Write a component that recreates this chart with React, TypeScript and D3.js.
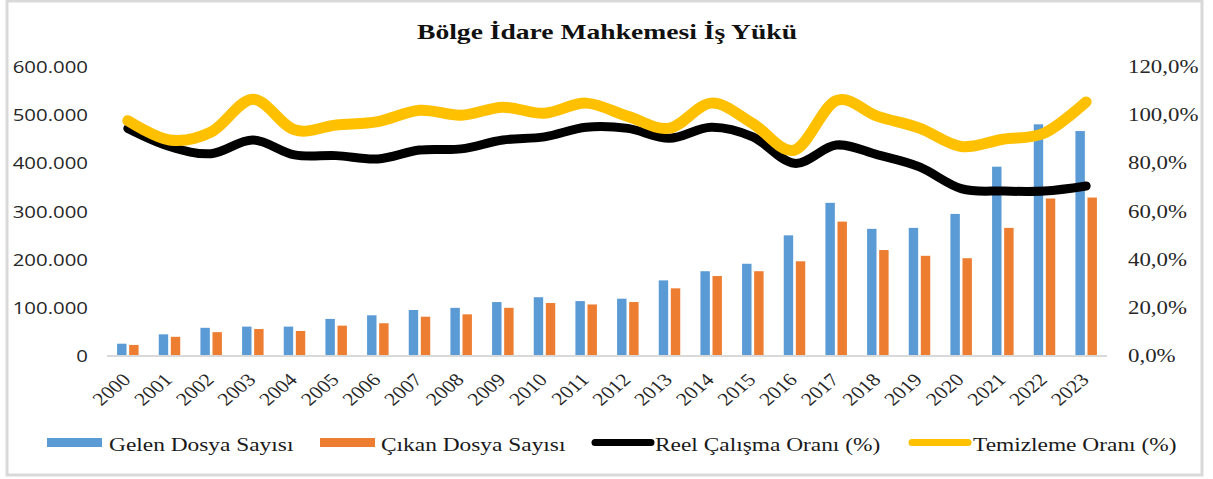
import React from "react";
import * as d3 from "d3";

const years = ["2000","2001","2002","2003","2004","2005","2006","2007","2008","2009","2010","2011","2012","2013","2014","2015","2016","2017","2018","2019","2020","2021","2022","2023"];
const gelen = [25500, 45000, 58500, 61000, 61000, 77000, 84500, 95500, 100000, 112000, 122000, 114000, 119000, 157000, 176000, 191500, 250500, 318000, 264000, 266000, 295000, 393000, 481000, 467000];
const cikan = [23000, 39800, 49500, 56000, 52000, 63000, 68000, 81600, 86500, 100000, 110000, 107000, 112000, 140500, 166000, 176000, 196600, 279000, 220000, 208000, 203000, 266000, 327000, 329000];
const reel = [94.5, 87, 84, 89.7, 83.5, 83.2, 81.8, 85.5, 86, 89.7, 91, 95, 94.5, 90.4, 95, 91, 80, 87.6, 83.5, 78.5, 69.5, 68.5, 68.5, 70.6];
const temizleme = [97.7, 89.7, 93, 106.6, 93.9, 95.9, 97.3, 102, 100, 103.3, 100.8, 105, 99.5, 94.6, 105, 96.5, 85.5, 106, 99.5, 94.6, 87, 90, 92.6, 105.5];
const leftTicks = [0, 100000, 200000, 300000, 400000, 500000, 600000];
const rightTicks = [0, 20, 40, 60, 80, 100, 120];
const seriesNames = ["Gelen Dosya Sayısı", "Çıkan Dosya Sayısı", "Reel Çalışma Oranı (%)", "Temizleme Oranı (%)"];
const title = "Bölge İdare Mahkemesi İş Yükü";

const W = 1213, H = 479;
const SX = 1.2;
const BLUE = "#5B9BD5", ORANGE = "#ED7D31", BLACK = "#000000", YELLOW = "#FFC000";
const SERIF = "'Liberation Serif', 'Times New Roman', serif";
const SANS = "'Open Sans', 'Noto Sans', sans-serif";

export default function App() {
  const x = d3.scaleBand<string>().domain(years).range([107, 1107]).padding(0);
  const bw = x.bandwidth();
  const inner = d3.scaleBand<string>().domain(["g", "c"]).range([bw / 2 - 10.75, bw / 2 + 10.75]).paddingInner(0.22);
  const yL = d3.scaleLinear().domain([0, 600000]).range([356, 67]);
  const yR = d3.scaleLinear().domain([0, 120]).range([356, 67]);
  const line = d3.line<number>().x((_, i) => (x(years[i]) as number) + bw / 2).y((d) => yR(d)).curve(d3.curveCardinal.tension(0));
  const fmtL = (v: number) => (v === 0 ? "0" : d3.format(",")(v).replace(/,/g, "."));
  const fmtR = (v: number) => v.toFixed(1).replace(".", ",") + "%";

  const legendText = (tx: number, label: string) => (
    <text transform={`translate(${tx},451) scale(${SX},1)`} fontFamily={SERIF} fontSize={19.5} fill="#1a1a1a">{label}</text>
  );

  return (
    <svg width={W} height={H} style={{ position: "absolute", left: 0, top: 0, background: "#fff" }}>
      <rect x={7} y={1} width={1195} height={474} fill="#fff" stroke="#d9d9d9" strokeWidth={3} />
      <text x={607} y={39} textAnchor="middle" fontFamily={SERIF} fontWeight="bold" fontSize={21} textLength={380} lengthAdjust="spacingAndGlyphs" fill="#111">{title}</text>

      {leftTicks.map((t) => (
        <text key={"l" + t} transform={`translate(88,${yL(t) + 6}) scale(${SX},1)`} textAnchor="end" fontFamily={SANS} fontSize={17} fill="#262626">{fmtL(t)}</text>
      ))}
      {rightTicks.map((t) => (
        <text key={"r" + t} transform={`translate(1128,${yR(t) + 6}) scale(1.27,1)`} fontFamily={SERIF} fontSize={18} fill="#262626">{fmtR(t)}</text>
      ))}

      {years.map((yr, i) => (
        <g key={yr} transform={`translate(${x(yr)},0)`}>
          <rect x={inner("g")} y={yL(gelen[i])} width={inner.bandwidth()} height={356 - yL(gelen[i])} fill={BLUE} />
          <rect x={inner("c")} y={yL(cikan[i])} width={inner.bandwidth()} height={356 - yL(cikan[i])} fill={ORANGE} />
        </g>
      ))}
      <line x1={107} x2={1107} y1={356} y2={356} stroke="#d9d9d9" strokeWidth={2} />

      {years.map((yr) => (
        <text key={"x" + yr} transform={`translate(${(x(yr) as number) + bw / 2 + 4},381) scale(${SX},1) rotate(-45)`} textAnchor="end" fontFamily={SERIF} fontSize={18} fill="#262626">{yr}</text>
      ))}

      <path d={line(reel) || ""} fill="none" stroke={BLACK} strokeWidth={9} strokeLinecap="round" strokeLinejoin="round" />
      <path d={line(temizleme) || ""} fill="none" stroke={YELLOW} strokeWidth={11} strokeLinecap="round" strokeLinejoin="round" />

      <rect x={47} y={438} width={55} height={9} fill={BLUE} />
      {legendText(109, seriesNames[0])}
      <rect x={320} y={438} width={55} height={9} fill={ORANGE} />
      {legendText(381, seriesNames[1])}
      <line x1={595} x2={651} y1={442.5} y2={442.5} stroke={BLACK} strokeWidth={7} strokeLinecap="round" />
      {legendText(655, seriesNames[2])}
      <line x1={912} x2={968} y1={442.5} y2={442.5} stroke={YELLOW} strokeWidth={7} strokeLinecap="round" />
      {legendText(973, seriesNames[3])}
    </svg>
  );
}
